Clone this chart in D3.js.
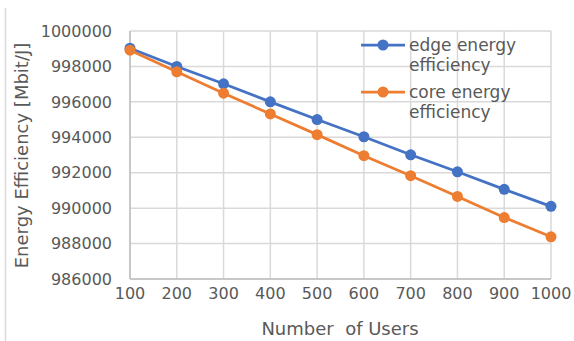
<!DOCTYPE html>
<html><head><meta charset="utf-8">
<script src="https://cdn.jsdelivr.net/npm/d3@7"></script>
<style>body{margin:0;background:#fff}svg{display:block}text{font-family:"DejaVu Sans",sans-serif;fill:#595959;white-space:pre}</style>
</head><body><svg id="c" width="574" height="341"></svg>
<script>
const users = [100,200,300,400,500,600,700,800,900,1000];
const edge = [999030,998000,997020,996000,995000,994030,993010,992050,991060,990100];
const core = [998920,997700,996490,995320,994150,992960,991830,990660,989470,988380];
const yTicks = [986000,988000,990000,992000,994000,996000,998000,1000000];
const seriesNames = [["edge energy","efficiency"],["core energy","efficiency"]];
const colors = ["#4472C4","#ED7D31"];

const svg = d3.select("#c");
const x = d3.scaleLinear().domain([100,1000]).range([130,551]);
const y = d3.scaleLinear().domain([986000,1000000]).range([279,31]);

svg.append("line").attr("x1",5.5).attr("x2",5.5).attr("y1",8).attr("y2",341).attr("stroke","#d9d9d9").attr("stroke-width",1.5);

// gridlines
svg.append("g").selectAll("line").data(yTicks).join("line")
  .attr("x1",130).attr("x2",551).attr("y1",d=>y(d)).attr("y2",d=>y(d))
  .attr("stroke","#d9d9d9").attr("stroke-width",1.5);
svg.append("g").selectAll("line").data(users).join("line")
  .attr("x1",d=>x(d)).attr("x2",d=>x(d)).attr("y1",31).attr("y2",279)
  .attr("stroke","#d9d9d9").attr("stroke-width",1.5);
// axis lines
svg.append("line").attr("x1",130).attr("x2",130).attr("y1",31).attr("y2",279).attr("stroke","#bfbfbf").attr("stroke-width",1.5);
svg.append("line").attr("x1",130).attr("x2",551).attr("y1",279).attr("y2",279).attr("stroke","#bfbfbf").attr("stroke-width",1.5);

// tick labels
svg.append("g").selectAll("text").data(yTicks).join("text")
  .attr("x",112).attr("y",d=>y(d)).attr("dy","0.36em").attr("text-anchor","end")
  .style("font-size","16px").text(d=>d);
svg.append("g").selectAll("text").data(users).join("text")
  .attr("x",d=>x(d)).attr("y",299).attr("text-anchor","middle")
  .style("font-size","16px").text(d=>d);

// titles
svg.append("text").attr("x",340).attr("y",335).attr("text-anchor","middle").style("font-size","18px").text("Number  of Users");
svg.append("text").attr("transform","translate(28,155.5) rotate(-90)").attr("text-anchor","middle").style("font-size","18px").text("Energy Efficiency [Mbit/J]");

// series
[edge, core].forEach((vals,i)=>{
  const pts = users.map((u,j)=>[u,vals[j]]);
  svg.append("path").datum(pts).attr("fill","none").attr("stroke",colors[i]).attr("stroke-width",2.75)
    .attr("d",d3.line().x(d=>x(d[0])).y(d=>y(d[1])));
  svg.append("g").selectAll("circle").data(pts).join("circle")
    .attr("cx",d=>x(d[0])).attr("cy",d=>y(d[1])).attr("r",5.5).attr("fill",colors[i]);
});

// legend
const ly = [45,92];
seriesNames.forEach((nm,i)=>{
  const g = svg.append("g");
  g.append("line").attr("x1",361).attr("x2",405).attr("y1",ly[i]).attr("y2",ly[i]).attr("stroke",colors[i]).attr("stroke-width",2.75);
  g.append("circle").attr("cx",383).attr("cy",ly[i]).attr("r",5.5).attr("fill",colors[i]);
  g.append("text").attr("x",409).attr("y",ly[i]+5.5).style("font-size","17px").text(nm[0]);
  g.append("text").attr("x",409).attr("y",ly[i]+26).style("font-size","17px").text(nm[1]);
});
</script></body></html>
